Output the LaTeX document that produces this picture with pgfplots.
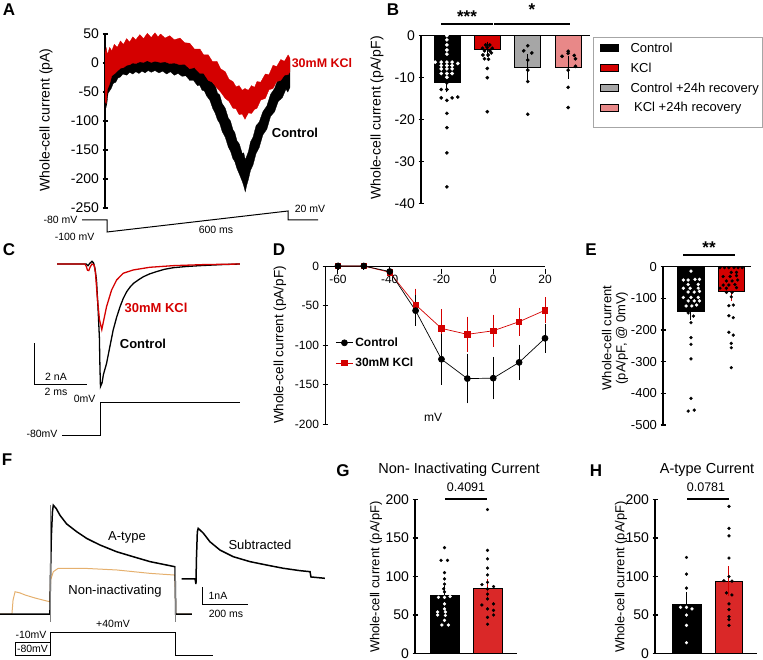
\documentclass[border=0pt]{standalone}
\usepackage{fontspec}
\setmainfont{Liberation Sans}
\usepackage{pgfplots}
\pgfplotsset{compat=1.18}

\definecolor{kred}{RGB}{212,0,0}
\definecolor{gred}{RGB}{218,40,40}
\definecolor{kgray}{RGB}{166,166,166}
\definecolor{kpink}{RGB}{232,136,136}
\definecolor{orng}{RGB}{229,176,110}
\newcommand\fs[1]{\fontsize{#1}{#1}\selectfont}

\pgfplotsset{
  panel/.style={scale only axis, clip=false, anchor=south west,
    axis line style={-, line width=1.2pt},
    every tick/.style={black, line width=1.2pt},
    major tick length=5pt, tick align=outside,
    /pgf/number format/assume math mode=true,
    tick label style={font=\fs{14}}, xtick=\empty},
  noarrows/.style={x axis line style={-}, y axis line style={-}},
  bars/.style={ybar, bar shift=0pt, bar width=#1, draw=black, line width=0.5pt},
  err/.style={error bars/y dir=both, error bars/y explicit,
    error bars/error bar style={#1, line width=1pt},
    error bars/error mark options={#1, line width=1pt, mark size=5pt}},
  dots/.style={only marks, mark=*, mark size=#1, mark options={fill=black, draw=black, line width=0.3pt}},
  wdots/.style={only marks, mark=*, mark size=#1, mark options={fill=white, draw=white, line width=0.3pt}},
}

\begin{document}
\begin{tikzpicture}
\useasboundingbox (0pt,0pt) rectangle (763pt,-660pt);

% ---------- A: ramp currents
\begin{axis}[panel, at={(105pt,-208pt)}, width=185pt, height=174pt,
  xmin=0, xmax=600, ymin=-250, ymax=50, axis x line=none, axis y line=left,
  noarrows, ytick={-250,-200,...,50}]
\addplot[fill=black, draw=black, line width=0.3pt] coordinates {
 (0,10) (5,20) (10,12) (15,22) (20,14) (27,24) (35,17) (42,25) (50,20) (58,27)
 (70,19) (80,25) (90,19) (100,26) (110,18) (120,24) (130,17) (140,23) (150,16)
 (162,22) (175,13) (187,19) (200,11) (212,17) (225,9) (237,14) (250,7) (262,10)
 (275,2) (287,3) (300,-5) (307,-2) (315,-11) (322,-8) (330,-17) (340,-20)
 (350,-35) (357,-38) (365,-52) (372,-55) (380,-70) (390,-78) (400,-95) (407,-100)
 (415,-115) (421,-120) (428,-134) (436,-140) (445,-156) (450,-155) (455,-167)
 (460,-160) (465,-153) (472,-136) (480,-128) (490,-108) (500,-102) (512,-84)
 (525,-74) (537,-54) (550,-44) (562,-27) (575,-20) (587,-3) (600,4)
 (600,-42) (593,-50) (587,-45) (575,-60) (562,-66) (550,-84) (537,-92) (525,-114)
 (512,-124) (500,-146) (490,-156) (480,-176) (472,-185) (465,-201) (460,-210)
 (455,-222) (450,-212) (445,-204) (436,-192) (428,-182) (421,-170) (415,-165)
 (407,-152) (400,-145) (390,-128) (380,-118) (372,-104) (365,-98) (357,-86)
 (350,-79) (340,-64) (330,-57) (322,-48) (315,-47) (307,-38) (300,-39) (287,-30)
 (275,-30) (262,-22) (250,-23) (237,-18) (225,-21) (212,-15) (200,-19) (187,-14)
 (175,-17) (162,-13) (150,-16) (140,-13) (130,-17) (120,-14) (110,-18) (100,-15)
 (90,-19) (80,-16) (70,-21) (58,-19) (50,-24) (42,-26) (35,-33) (27,-35) (20,-44)
 (15,-48) (10,-52) (5,-75) (2,-58) (0,-62)};
\addplot[fill=kred, draw=kred, line width=0.3pt] coordinates {
 (0,17) (4,26) (8,14) (15,27) (22,21) (30,32) (40,27) (50,38) (60,32) (70,42)
 (80,36) (90,45) (100,40) (113,49) (125,42) (137,51) (150,44) (162,52) (172,45)
 (180,50) (195,43) (210,47) (225,40) (243,43) (258,35) (275,34) (290,24) (308,24)
 (320,14) (335,14) (348,3) (363,3) (375,-10) (390,-15) (402,-28) (415,-32)
 (425,-41) (435,-39) (445,-47) (454,-44) (465,-47) (475,-39) (485,-42) (493,-32)
 (505,-33) (520,-19) (532,-20) (545,-4) (557,-6) (570,6) (582,3) (594,14) (600,8)
 (600,-15) (594,-20) (582,-21) (570,-30) (557,-32) (545,-44) (532,-46) (520,-61)
 (505,-64) (493,-78) (485,-80) (475,-87) (465,-86) (454,-97) (445,-88) (435,-89)
 (425,-79) (415,-78) (402,-66) (390,-61) (375,-50) (363,-43) (348,-33) (335,-30)
 (320,-18) (308,-18) (290,-8) (275,-10) (258,-2) (243,-3) (225,0) (210,-1)
 (195,2) (180,1) (162,3) (150,1) (137,4) (125,1) (113,2) (100,-1) (90,0) (80,-3)
 (70,-4) (60,-8) (50,-9) (40,-14) (30,-19) (22,-22) (15,-36) (8,-45) (4,-70) (0,-66)};
\end{axis}

% ---------- B: bar chart
\begin{axis}[panel, at={(421pt,-203.7pt)}, width=169pt, height=168pt,
  xmin=0.36, xmax=4.54, ymin=-40, ymax=0, axis x line=top, axis y line=left,
  noarrows, ytick={-40,-30,...,0}]
\addplot[bars=26pt, fill=black, err=black] coordinates {(1,-11.1) +- (0,1.2)};
\addplot[bars=26pt, fill=kred, err=black] coordinates {(2,-3.2) +- (0,0.6)};
\addplot[bars=26pt, fill=kgray, err=black] coordinates {(3,-7.5) +- (0,1.9)};
\addplot[bars=26pt, fill=kpink, err=black] coordinates {(4,-7.6) +- (0,1.5)};
\addplot[wdots=1.7pt] coordinates {(1,0) (1,-1) (1,-2.2) (1,-3.4) (1,-4.4)
 (0.71,-6.3) (0.86,-6.3) (1,-6.3) (1.13,-6.3) (1.27,-6.6) (0.86,-7.1) (1,-7.1)
 (1.13,-7.1) (0.86,-7.9) (1,-7.9) (1.13,-7.9) (0.86,-9.0) (1,-9.0) (1.13,-9.0) (1,-9.9)};
\addplot[dots=1.7pt] coordinates {(1,-11.2) (0.86,-12.8) (1,-12.8) (0.86,-14.8)
 (1,-15.4) (1.13,-14.8) (1.27,-14.6) (1,-18.5) (1,-21.9) (1,-27.9) (1,-36)};
\addplot[dots=1.7pt] coordinates {(1.96,-2.2) (2.06,-2.2) (1.88,-3.0) (2,-2.8)
 (2.12,-3.0) (1.93,-3.6) (2.06,-3.6) (1.89,-4.6) (2.02,-4.6) (2.1,-4.1)
 (1.93,-5.5) (2.03,-5.6) (2,-7.8) (2,-10) (2,-18.1)};
\addplot[dots=1.7pt] coordinates {(3,-2.4) (2.9,-3.6) (3.1,-4.1) (3,-5.8)
 (3,-8.2) (3,-10.9) (3,-18.7)};
\addplot[dots=1.7pt] coordinates {(4,-3.7) (3.85,-4.9) (4,-4.2) (4.15,-4.7)
 (4.18,-5.5) (4.18,-7.3) (4,-8.2) (4,-12.3) (4,-17.1)};
\end{axis}

% ---------- C: Na currents
\begin{axis}[hide axis, scale only axis, clip=false, anchor=south west,
  at={(57pt,-397.25pt)}, width=185.5pt, height=143.5pt,
  xmin=0, xmax=7, ymin=-6.5, ymax=0.5]
\addplot[black, line width=1.3pt] coordinates {(0,0) (1.1,0) (1.17,-0.08)
 (1.25,0.05) (1.32,0.13) (1.38,0.05) (1.43,-0.2) (1.49,-0.78) (1.55,-2.2)
 (1.6,-3.6) (1.62,-5.0) (1.64,-5.98) (1.7,-5.8) (1.75,-5.4) (1.87,-4.85)
 (2.0,-4.0) (2.12,-3.22) (2.25,-2.6) (2.38,-2.08) (2.5,-1.68) (2.63,-1.35)
 (2.76,-1.12) (2.89,-0.94) (3.1,-0.75) (3.26,-0.62) (3.5,-0.48) (3.76,-0.37)
 (4.05,-0.26) (4.39,-0.18) (4.9,-0.12) (5.4,-0.08) (6.2,-0.03) (6.9,0)};
\addplot[kred, line width=1.3pt] coordinates {(0,0) (1.05,0) (1.1,-0.1)
 (1.15,-0.3) (1.2,-0.32) (1.25,-0.15) (1.32,0) (1.4,-0.05) (1.45,-0.4)
 (1.52,-1.6) (1.6,-2.7) (1.69,-3.2) (1.77,-2.7) (1.87,-2.08) (2.06,-1.27)
 (2.25,-0.78) (2.5,-0.45) (2.88,-0.29) (3.5,-0.16) (4.39,-0.08) (5.5,-0.03) (6.9,0)};
\end{axis}

% ---------- D: I-V curves
\begin{axis}[panel, at={(325pt,-424pt)}, width=220pt, height=158pt,
  xmin=-65, xmax=20, ymin=-200, ymax=0, axis x line=top, axis y line=left,
  noarrows, xtick={-60,-40,...,20}, ytick={-200,-150,...,0},
  tick label style={font=\fs{12}},
  axis line style={line width=0.9pt}, every tick/.style={black, line width=0.9pt},
  x tick style={yshift=-5pt}, xticklabel style={anchor=north, yshift=-8pt},
  reverse legend, legend cell align=left,
  legend style={draw=none, fill=none, at={(axis cs:-61,-88)}, anchor=north west,
    font=\fs{12}\bfseries, row sep=6pt, inner sep=0pt}]
\addplot[kred, line width=0.7pt, mark=square*, mark size=2.7pt,
  mark options={solid},
  error bars/y dir=both, error bars/y explicit,
  error bars/error bar style={kred, line width=0.7pt},
  error bars/error mark options={kred, line width=0.7pt, mark size=3.5pt}]
 coordinates {(-60,0) +- (0,0) (-50,0) +- (0,0) (-40,-8) +- (0,2)
 (-30,-49) +- (0,16) (-20,-79) +- (0,20) (-10,-86.5) +- (0,18) (0,-82) +- (0,16)
 (10,-70.5) +- (0,13.5) (20,-56) +- (0,12)};
\addlegendentry{30mM KCl}
\addplot[black, line width=0.7pt, mark=*, mark size=3pt,
  error bars/y dir=both, error bars/y explicit,
  error bars/error bar style={black, line width=0.7pt},
  error bars/error mark options={black, line width=0.7pt, mark size=3.5pt}]
 coordinates {(-60,0) +- (0,0) (-50,0) +- (0,0) (-40,-7) +- (0,2)
 (-30,-56.5) +- (0,15) (-20,-118) +- (0,28) (-10,-142.5) +- (0,27) (0,-142) +- (0,22.5)
 (10,-122) +- (0,18) (20,-91.5) +- (0,14)};
\addlegendentry{Control}
\end{axis}

% ---------- E: bars at 0 mV
\begin{axis}[panel, at={(663pt,-425pt)}, width=88pt, height=158.3pt,
  xmin=0.305, xmax=2.49, ymin=-500, ymax=0, axis x line=top, axis y line=left,
  noarrows, ytick={-500,-400,...,0}, tick label style={font=\fs{13}}]
\addplot[bars=26.5pt, fill=black, err=black] coordinates {(1,-140) +- (0,12)};
\addplot[bars=26pt, fill=kred, err=kred] coordinates {(2,-79) +- (0,14)};
\addplot[wdots=1.5pt] coordinates {(1,-14) (0.81,-42) (0.93,-42) (1.1,-40)
 (1.21,-40) (0.93,-56) (1.18,-56) (0.81,-68) (0.98,-68) (1.18,-68) (0.93,-80)
 (1.08,-80) (1.21,-78) (0.81,-97) (1,-97) (1.18,-97) (0.93,-108) (1.08,-108)
 (1.21,-108) (0.88,-124) (1.02,-124) (1.14,-121)};
\addplot[dots=1.5pt] coordinates {(0.93,-146) (1.06,-156) (1,-177) (1,-224)
 (1,-245) (1,-291) (1,-416) (0.93,-456) (1.08,-453)};
\addplot[dots=1.5pt] coordinates {(1.72,-3) (1.83,-3) (1.94,-3) (2.07,-3)
 (2.17,-3) (2.27,-3) (2,-18) (2.13,-18) (1.8,-31) (1.97,-31) (2.13,-28)
 (1.88,-45) (2.02,-45) (2.16,-42) (1.8,-58) (1.94,-58) (2.09,-56) (1.72,-68)
 (1.88,-68) (2.13,-66) (1.88,-81) (2.02,-81) (2,-95) (1.94,-123) (2.05,-121)
 (1.94,-155) (2.05,-161) (1.94,-207) (2.05,-216) (2,-242) (2,-256) (2,-319)};
\end{axis}

% ---------- F: K currents
\begin{axis}[hide axis, scale only axis, clip=false, anchor=south west,
  at={(0pt,-631pt)}, width=330pt, height=136pt,
  xmin=0, xmax=1466.7, ymin=-1, ymax=7]
\addplot[orng, line width=1pt] coordinates {(0,0) (53,0) (58,0.82) (67,1.31)
 (89,1.24) (111,1.12) (156,0.94) (200,0.79) (222,0.72) (225,2.0) (237,2.49)
 (259,2.69) (370,2.69) (519,2.59) (667,2.39) (778,2.29) (781,0) (853,0)};
\addplot[black, line width=1.5pt] coordinates {(0,0) (222,0) (224,2.0) (228,4.5)
 (233,6.0) (237,6.4) (250,6.2) (267,5.8) (296,5.3) (341,4.84) (385,4.45)
 (444,4.06) (519,3.66) (592,3.37) (667,3.08) (741,2.88) (778,2.78) (781,0) (853,0)};
\addplot[gray, line width=0.6pt] coordinates {(222,-0.47) (222,6.4)};
\addplot[gray, line width=0.6pt] coordinates {(778,-0.47) (778,2.8)};
\addplot[black, line width=1.5pt] coordinates {(807,2.06) (867,2.06) (871,1.76)
 (873,3.2) (877,4.82) (881,5.04) (904,4.75) (933,4.25) (978,3.76) (1037,3.37)
 (1111,3.08) (1185,2.88) (1259,2.69) (1333,2.55) (1378,2.49) (1382,2.18) (1444,2.1)};
\end{axis}

% ---------- G: non-inactivating
\begin{axis}[panel, at={(415pt,-653.5pt)}, width=102pt, height=154pt,
  xmin=0.314, xmax=2.686, ymin=0, ymax=200, axis x line=bottom, axis y line=left,
  noarrows, ytick={0,50,...,200}]
\addplot[bars=29pt, fill=black, err=black] coordinates {(1,75.2) +- (0,6)};
\addplot[bars=29pt, fill=gred, err=kred] coordinates {(2,84.8) +- (0,6)};
\addplot[dots=1.5pt] coordinates {(1,137.6) (0.92,121) (1.07,121) (1,105)
 (1,97) (1,90) (0.98,84) (1,80)};
\addplot[wdots=1.5pt] coordinates {(0.86,73) (1.13,74) (1,73) (1,64.5) (1,58)
 (0.84,54) (1.02,54) (0.84,50) (1.02,49.5) (1,43) (0.94,37) (1.09,37)};
\addplot[dots=1.5pt] coordinates {(2,187) (2,134) (2,123) (2,111) (2,102)
 (2,92.5) (1.87,89.5) (2.14,87) (2,84) (2,77) (2,71) (1.87,63) (2.14,64.5)
 (2,58) (2.14,56) (2.14,50) (2,47) (2,38)};
\end{axis}

% ---------- H: A-type
\begin{axis}[panel, at={(655pt,-653.5pt)}, width=102pt, height=154pt,
  xmin=0.259, xmax=2.659, ymin=0, ymax=200, axis x line=bottom, axis y line=left,
  noarrows, ytick={0,50,...,200}]
\addplot[bars=29pt, fill=black, err=black] coordinates {(1,63.6) +- (0,10)};
\addplot[bars=27pt, fill=gred, err=kred] coordinates {(2,93.8) +- (0,13)};
\addplot[dots=1.5pt] coordinates {(1,124.7) (1,103) (1,85)};
\addplot[wdots=1.5pt] coordinates {(0.86,60) (1,60) (1.13,58) (1,50) (1,36.5) (1,14)};
\addplot[dots=1.5pt] coordinates {(2,191) (2,162.6) (2,152.7) (2,124) (2,100)
 (1.88,94.6) (2.07,94) (1.94,78.7) (2.07,76) (2,64.5) (2,57) (2,48) (2,44) (2,36.5)};
\end{axis}

% ---------- annotations, in pixel units
\begin{scope}[x=1pt, y=-1pt]
\foreach \l/\px/\py in {A/9/10, B/393/10, C/9/250, D/279/250, E/591/250, F/7/460, G/343/471, H/596/471}
  \node[font=\fs{17}\bfseries] at (\px,\py) {\l};
% A
\node[rotate=90, font=\fs{14}] at (46,120) {Whole-cell current (pA)};
\node[font=\fs{12.5}\bfseries, text=kred] at (322,63) {30mM KCl};
\node[font=\fs{13}\bfseries] at (295,133) {Control};
\draw[line width=1pt] (82,220) -- (107,220) -- (107,232) -- (288,211) -- (288,220) -- (318,220);
\node[font=\fs{10.5}, anchor=east] at (81,220) {-80 mV};
\node[font=\fs{10.5}, anchor=east] at (98,237) {-100 mV};
\node[font=\fs{10.5}] at (310,209) {20 mV};
\node[font=\fs{10.5}] at (216,230) {600 ms};
% B
\node[rotate=90, font=\fs{14}] at (377,118) {Whole-cell current (pA/pF)};
\draw[line width=1.5pt] (441,24) -- (493,24);
\draw[line width=1.5pt] (494,24) -- (570,24);
\node[font=\fs{17}\bfseries] at (467,17) {***};
\node[font=\fs{17}\bfseries] at (532,10) {*};
\draw[gray!70, line width=0.7pt] (593,37) rectangle (762,127);
\filldraw[draw=black, fill=black] (600,44.3) rectangle (618.3,51.7);
\filldraw[draw=black, fill=kred] (600,64.3) rectangle (618.3,71.7);
\filldraw[draw=black, fill=kgray] (600,84.3) rectangle (618.3,91.7);
\filldraw[draw=black, fill=kpink] (600,104.3) rectangle (618.3,111.7);
\node[font=\fs{13}, anchor=west] at (627,48) {Control};
\node[font=\fs{13}, anchor=west] at (627,68.3) {KCl};
\node[font=\fs{13}, anchor=west] at (627,89) {Control +24h recovery};
\node[font=\fs{13}, anchor=west] at (627,108.3) {\ KCl +24h recovery};
% C
\node[font=\fs{13}\bfseries, text=kred] at (156,308) {30mM KCl};
\node[font=\fs{13}\bfseries] at (143,344) {Control};
\draw[line width=1pt] (34,343) -- (34,384) -- (87,384);
\node[font=\fs{10.5}] at (56,377) {2 nA};
\node[font=\fs{10.5}] at (56,392) {2 ms};
\draw[line width=1pt] (62,435) -- (100,435) -- (100,402) -- (240,402);
\node[font=\fs{10.5}, anchor=east] at (99,399) {0mV};
\node[font=\fs{10.5}, anchor=east] at (61,434) {-80mV};
% D
\node[rotate=90, font=\fs{13.5}] at (280,345) {Whole-cell current (pA/pF)};
\node[font=\fs{12}] at (433,417) {mV};
% E
\node[rotate=90, font=\fs{13}, align=center] at (615,338) {Whole-cell current\\[1pt](pA/pF, @ 0mV)};
\draw[line width=1.5pt] (683,255) -- (735,255);
\node[font=\fs{17}\bfseries] at (709,248) {**};
% F
\node[font=\fs{13}] at (127,537) {A-type};
\node[font=\fs{13}] at (115,591) {Non-inactivating};
\node[font=\fs{13}] at (260,545) {Subtracted};
\draw[line width=1pt] (202,587) -- (202,604) -- (248,604);
\node[font=\fs{10.5}] at (218,596) {1nA};
\node[font=\fs{10.5}] at (226,614) {200 ms};
\draw[line width=1pt] (50,655) -- (50,632) -- (175,632) -- (175,655) -- (213,655);
\draw[line width=0.8pt] (15,642) rectangle (50,655);
\node[font=\fs{10.5}] at (113,624) {+40mV};
\node[font=\fs{10.5}, anchor=east] at (50,635) {-10mV};
\node[font=\fs{10.5}] at (32.5,648.5) {-80mV};
% G
\node[font=\fs{14.5}] at (459,470) {Non- Inactivating Current};
\node[font=\fs{12.5}] at (466,487) {0.4091};
\draw[line width=1.2pt] (445,499) -- (487,499);
\node[rotate=90, font=\fs{13}] at (376,577) {Whole-cell current (pA/pF)};
% H
\node[font=\fs{14.5}] at (707,470) {A-type Current};
\node[font=\fs{12.5}] at (706,487) {0.0781};
\draw[line width=1.2pt] (687,499) -- (729,499);
\node[rotate=90, font=\fs{13}] at (621,577) {Whole-cell current (pA/pF)};
\end{scope}
\end{tikzpicture}
\end{document}
